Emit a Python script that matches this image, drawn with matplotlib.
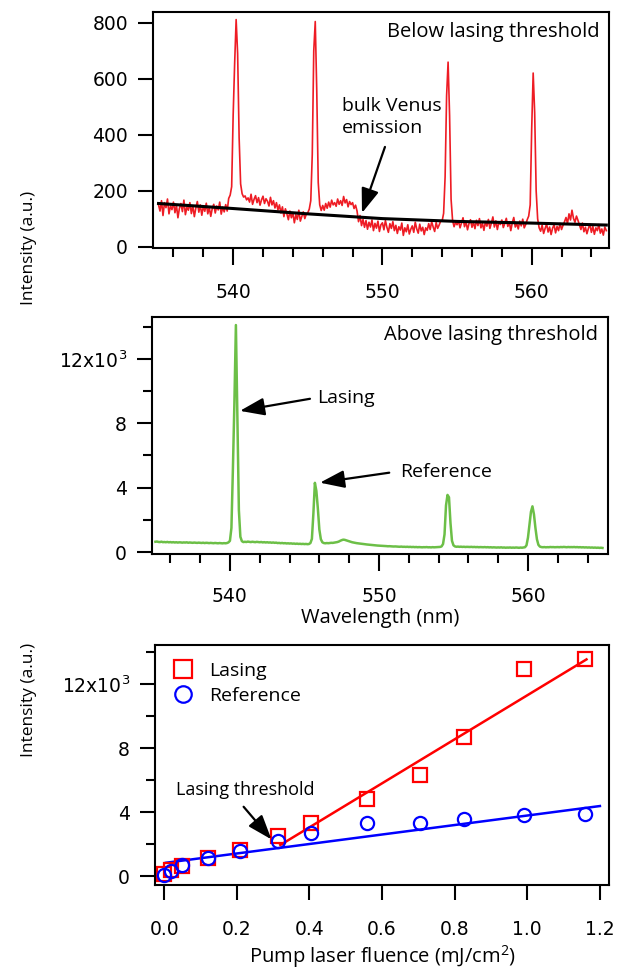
import numpy as np
import matplotlib
matplotlib.use("Agg")
import matplotlib.pyplot as plt
from matplotlib.ticker import MultipleLocator, FixedLocator, FixedFormatter, FormatStrFormatter

# tick labels in a Verdana-like face, annotations in a humanist one
plt.rcParams["font.family"] = ["DejaVu Sans"]
plt.rcParams["mathtext.default"] = "regular"
TXT = ["Open Sans", "DejaVu Sans"]

# spectra sampled every 0.1 nm from 535.0 to 565.0
wavelength = np.round(np.arange(535.0, 565.05, 0.1), 1)

# below lasing threshold (red spectrum)
below_intensity = [
    150, 128, 165, 112, 158, 140, 171, 118, 146, 133,
    160, 122, 149, 104, 138, 155, 126, 167, 115, 142,
    131, 158, 119, 147, 108, 139, 162, 124, 150, 113,
    145, 127, 156, 118, 141, 109, 137, 152, 121, 146,
    132, 160, 117, 142, 125, 151, 128, 173, 185, 215,
    470, 655, 812, 690, 390, 225, 190, 178, 182, 168,
    175, 160, 188, 152, 170, 183, 158, 176, 149, 168,
    181, 155, 172, 163, 146, 177, 150, 165, 139, 158,
    132, 150, 121, 143, 108, 136, 118, 97, 128, 104,
    122, 86, 115, 98, 131, 92, 108, 125, 101, 117,
    122, 135, 165, 330, 700, 805, 560, 230, 150, 130,
    148, 131, 155, 138, 160, 142, 167, 150, 158, 145,
    171, 152, 165, 148, 180, 157, 169, 143, 162, 151,
    158, 137, 149, 128, 90, 112, 76, 98, 70, 94,
    63, 88, 71, 96, 58, 84, 67, 92, 55, 79,
    86, 61, 94, 70, 52, 83, 66, 90, 58, 77,
    48, 72, 60, 85, 41, 68, 54, 79, 46, 63,
    75, 52, 88, 64, 49, 81, 57, 70, 44, 68,
    59, 83, 62, 90, 71, 55, 87, 66, 78, 92,
    92, 120, 250, 540, 660, 470, 170, 95, 72, 88,
    79, 93, 68, 86, 104, 72, 90, 61, 83, 97,
    70, 88, 65, 95, 76, 101, 68, 84, 59, 90,
    74, 98, 66, 85, 107, 71, 93, 62, 88, 80,
    96, 69, 84, 102, 73, 90, 58, 86, 105, 71,
    83, 64, 92, 75, 99, 68, 80, 97, 110, 150,
    420, 621, 480, 200, 100, 68, 56, 78, 48, 66,
    82, 53, 71, 44, 67, 79, 50, 73, 58, 84,
    62, 77, 90, 105, 84, 118, 96, 131, 102, 88,
    110, 95, 78, 62, 85, 54, 70, 47, 66, 81,
    52, 73, 45, 68, 58, 80, 49, 64, 42, 71,
    58,
]

# bulk Venus emission (black curve)
bulk_wl = [535, 540, 545, 550, 555, 560, 565]
bulk_intensity = [155, 137, 118, 101, 91, 85, 78]

# above lasing threshold (green spectrum)
above_intensity = [
    640, 655, 630, 620, 645, 615, 625, 610, 630, 605,
    620, 600, 615, 595, 610, 590, 605, 600, 585, 600,
    590, 605, 580, 595, 585, 575, 590, 580, 570, 585,
    575, 565, 580, 560, 575, 570, 555, 570, 560, 550,
    565, 555, 545, 560, 550, 540, 555, 545, 560, 600,
    700, 1500, 5200, 9300, 14100, 8200, 2600, 950, 680, 620,
    640, 625, 650, 635, 620, 640, 630, 615, 635, 620,
    610, 625, 600, 615, 595, 610, 590, 600, 580, 595,
    575, 585, 560, 570, 550, 565, 545, 555, 535, 545,
    530, 540, 520, 530, 510, 525, 505, 515, 500, 510,
    495, 505, 490, 500, 560, 820, 2400, 4300, 3800, 2700,
    1400, 800, 610, 560, 545, 560, 550, 565, 575, 570,
    585, 600, 620, 650, 700, 740, 770, 760, 730, 700,
    670, 640, 610, 590, 570, 555, 540, 530, 520, 505,
    495, 480, 470, 460, 445, 440, 430, 420, 415, 405,
    400, 395, 385, 380, 375, 370, 360, 365, 355, 350,
    345, 350, 340, 335, 330, 340, 325, 330, 320, 330,
    315, 325, 310, 320, 305, 315, 300, 310, 305, 295,
    305, 300, 310, 295, 300, 290, 305, 295, 300, 310,
    305, 320, 350, 500, 1100, 2900, 3550, 3400, 1800, 700,
    420, 350, 330, 340, 325, 335, 320, 330, 315, 325,
    320, 315, 325, 310, 320, 305, 315, 300, 310, 305,
    300, 310, 295, 305, 290, 300, 285, 295, 290, 280,
    290, 280, 295, 275, 285, 270, 280, 275, 285, 270,
    280, 270, 285, 275, 265, 280, 270, 285, 300, 420,
    900, 1700, 2500, 2840, 2350, 1500, 800, 450, 340, 310,
    300, 310, 295, 305, 300, 315, 305, 310, 300, 305,
    310, 300, 315, 305, 320, 310, 300, 315, 305, 310,
    305, 315, 300, 310, 295, 305, 290, 300, 285, 295,
    280, 290, 275, 285, 270, 280, 265, 275, 260, 270,
    255,
]

# intensity vs pump fluence (thousands)
fluence = [0.0, 0.02, 0.05, 0.12, 0.21, 0.315, 0.405, 0.56, 0.705, 0.825, 0.99, 1.16]
lasing = [0.1, 0.35, 0.65, 1.1, 1.6, 2.5, 3.3, 4.8, 6.3, 8.7, 12.95, 13.55]
reference = [0.05, 0.3, 0.7, 1.15, 1.58, 2.2, 2.7, 3.33, 3.3, 3.54, 3.8, 3.88]
fit_lasing_x = [0.32, 1.163]
fit_lasing_y = [1.94, 13.54]
fit_ref_x = [0.005, 1.2]
fit_ref_y = [0.83, 4.375]

k_ticks = [0, 4, 8, 12]
k_labels = ["0", "4", "8", "12x10$^{3}$"]

W, H = 639, 969
fig = plt.figure(figsize=(W / 100, H / 100), dpi=100)


def add_axes(left, right, top, bottom):
    return fig.add_axes([left / W, 1 - bottom / H, (right - left) / W, (bottom - top) / H])


def style(ax, xpad=13):
    for sp in ax.spines.values():
        sp.set_linewidth(1.5)
    ax.tick_params(which="both", direction="out", width=1.5, top=False, right=False, labelsize=13.5)
    ax.tick_params(axis="x", which="major", length=12, pad=xpad)
    ax.tick_params(axis="x", which="minor", length=6.5)
    ax.tick_params(axis="y", which="major", length=11, pad=7)
    ax.tick_params(axis="y", which="minor", length=6.5)


arrow = dict(arrowstyle="-|>,head_length=0.75,head_width=0.27", mutation_scale=20,
             color="black", lw=1.6, shrinkA=0, shrinkB=0)

# top panel
ax1 = add_axes(153, 609, 12, 248)
ax1.plot(wavelength, below_intensity, color="#ee1c24", lw=1.2)
ax1.plot(bulk_wl, bulk_intensity, color="black", lw=2.2)
ax1.set_xlim(534.63, 565.18)
ax1.set_ylim(-4, 839)
ax1.xaxis.set_major_locator(MultipleLocator(10))
ax1.xaxis.set_minor_locator(MultipleLocator(2))
ax1.yaxis.set_major_locator(MultipleLocator(200))
style(ax1)
ax1.text(0.98, 0.915, "Below lasing threshold", transform=ax1.transAxes,
         ha="right", va="center", fontsize=14.5, family=TXT)
ax1.text(547.29, 464, "bulk Venus\nemission", ha="left", va="center", fontsize=14,
         linespacing=1.25, family=TXT)
ax1.annotate("", xy=(548.63, 121), xytext=(550.17, 357), arrowprops=arrow)

# middle panel
ax2 = add_axes(152, 608, 317, 554)
ax2.plot(wavelength, np.array(above_intensity) / 1000, color="#6cbf47", lw=1.8)
ax2.set_xlim(534.77, 565.37)
ax2.set_ylim(-0.12, 14.6)
ax2.xaxis.set_major_locator(MultipleLocator(10))
ax2.xaxis.set_minor_locator(MultipleLocator(2))
ax2.yaxis.set_major_locator(FixedLocator(k_ticks))
ax2.yaxis.set_major_formatter(FixedFormatter(k_labels))
ax2.yaxis.set_minor_locator(MultipleLocator(2))
style(ax2, xpad=12)
ax2.set_xlabel("Wavelength (nm)", fontsize=14.5, labelpad=1, family=TXT)
ax2.text(0.978, 0.924, "Above lasing threshold", transform=ax2.transAxes,
         ha="right", va="center", fontsize=14.5, family=TXT)
ax2.text(545.83, 9.58, "Lasing", ha="left", va="center", fontsize=14, family=TXT)
ax2.annotate("", xy=(540.67, 8.77), xytext=(545.37, 9.52), arrowprops=arrow)
ax2.text(551.39, 4.99, "Reference", ha="left", va="center", fontsize=14, family=TXT)
ax2.annotate("", xy=(546.04, 4.31), xytext=(550.69, 4.93), arrowprops=arrow)

# bottom panel
ax3 = add_axes(155, 609, 645, 885)
ax3.plot(fit_ref_x, fit_ref_y, color="#0000ff", lw=1.8)
ax3.plot(fit_lasing_x, fit_lasing_y, color="#ff0000", lw=1.8)
ax3.plot(fluence, lasing, ls="none", marker="s", ms=10, mfc="none", mec="#ff0000", mew=1.6, label="Lasing")
ax3.plot(fluence, reference, ls="none", marker="o", ms=9.5, mfc="none", mec="#0000ff", mew=1.6, label="Reference")
ax3.set_xlim(-0.025, 1.225)
ax3.set_ylim(-0.56, 14.44)
ax3.xaxis.set_major_locator(MultipleLocator(0.2))
ax3.xaxis.set_major_formatter(FormatStrFormatter("%.1f"))
ax3.yaxis.set_major_locator(FixedLocator(k_ticks))
ax3.yaxis.set_major_formatter(FixedFormatter(k_labels))
ax3.yaxis.set_minor_locator(MultipleLocator(2))
style(ax3, xpad=14)
ax3.tick_params(axis="x", which="major", length=11)
ax3.set_xlabel("Pump laser fluence (mJ/cm$^{2}$)", fontsize=14.5, labelpad=3, family=TXT)
ax3.text(0.032, 5.375, "Lasing threshold", ha="left", va="center", fontsize=13, family=TXT)
ax3.annotate("", xy=(0.2956, 2.29), xytext=(0.219, 4.33), arrowprops=arrow)
ax3.legend(loc="upper left", bbox_to_anchor=(0.04, 0.93), frameon=False,
           prop={"family": TXT, "size": 14},
           handlelength=1.0, handletextpad=0.85, borderpad=0, borderaxespad=0,
           labelspacing=0.35, markerscale=1.25)

ylab = dict(rotation=90, ha="center", va="center", fontsize=12.5,
            family=["Liberation Sans Narrow", "Open Sans"])
fig.text(29 / W, 1 - 248 / H, "Intensity (a.u.)", **ylab)
fig.text(29 / W, 1 - 700 / H, "Intensity (a.u.)", **ylab)

fig.savefig("out.png", dpi=100)
